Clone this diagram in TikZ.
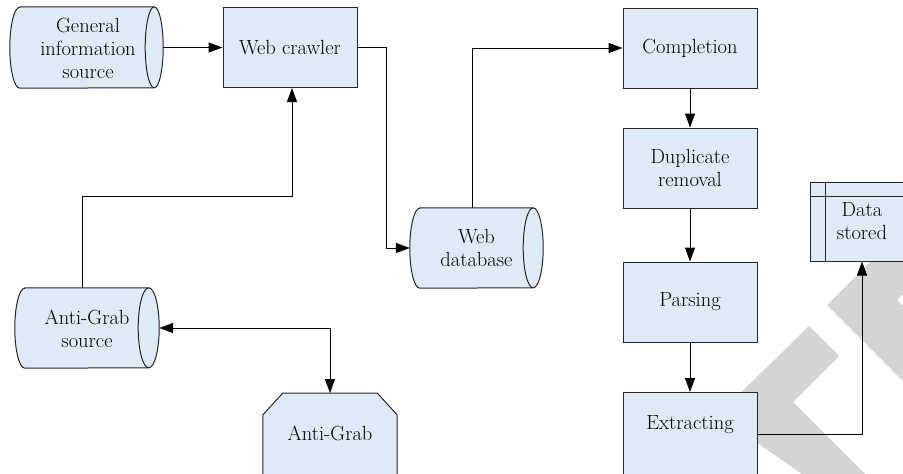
\documentclass[tikz,border=0pt]{standalone}
\usetikzlibrary{arrows.meta,calc}
\definecolor{boxfill}{RGB}{222,234,245}
\definecolor{edgecol}{RGB}{38,38,38}
\definecolor{wmark}{RGB}{212,212,212}
\begin{document}
\begin{tikzpicture}[x=1pt,y=-1pt,
  lbl/.style={inner sep=0pt, align=center, text=black, font=\fontsize{20.5}{23}\selectfont},
  shp/.style={draw=edgecol, fill=boxfill, line width=1pt},
  box/.style={shp, rectangle, inner sep=0pt, minimum width=134pt, minimum height=80pt, align=center, text=black, font=\fontsize{20.5}{23}\selectfont},
  conn/.style={draw=black, line width=1pt, -{Triangle[length=14pt,width=10pt]}},
  dconn/.style={draw=black, line width=1pt, {Triangle[length=14pt,width=10pt]}-{Triangle[length=14pt,width=10pt]}},
  wm/.style={fill=wmark, draw=none}]
\useasboundingbox (0,0) rectangle (903,474);
\clip (0,0) rectangle (903,474);
% watermark
\fill[wm] (809,326) -- (839,356) -- (793,402) -- (893,502) -- (868,520) -- (717.7,415.3) -- cycle;
\fill[wm] (947,185) -- (827,305) -- (947,425) -- (1017,420) -- (897,300) -- (1017,180) -- cycle;

% named areas
\node[inner sep=0pt, minimum width=153pt, minimum height=81pt] (gis) at (86.5,47.5) {};
\node[inner sep=0pt, minimum width=133pt, minimum height=80pt] (wdb) at (476.5,248) {};
\node[inner sep=0pt, minimum width=144pt, minimum height=80pt] (ags) at (87,328) {};
\node[inner sep=0pt, minimum width=134pt, minimum height=110pt, anchor=north] (ag) at (330,393) {};

% stored-data shapes
\draw[shp] ($(gis.north west)+(10,0)$) -- ($(gis.north east)+(-9,0)$)
  arc[start angle=90, end angle=-90, x radius=9pt, y radius=40.5pt]
  -- ($(gis.south west)+(10,0)$)
  arc[start angle=270, end angle=90, x radius=10pt, y radius=40.5pt] -- cycle;
\draw[shp, fill=none] ($(gis.north east)+(-9,0)$) arc[start angle=90, end angle=270, x radius=9pt, y radius=40.5pt];

\draw[shp] ($(wdb.north west)+(10,0)$) -- ($(wdb.north east)+(-10,0)$)
  arc[start angle=90, end angle=-90, x radius=10pt, y radius=40pt]
  -- ($(wdb.south west)+(10,0)$)
  arc[start angle=270, end angle=90, x radius=10pt, y radius=40pt] -- cycle;
\draw[shp, fill=none] ($(wdb.north east)+(-10,0)$) arc[start angle=90, end angle=270, x radius=10pt, y radius=40pt];

\draw[shp] ($(ags.north west)+(10,0)$) -- ($(ags.north east)+(-10.5,0)$)
  arc[start angle=90, end angle=-90, x radius=10.5pt, y radius=40pt]
  -- ($(ags.south west)+(10,0)$)
  arc[start angle=270, end angle=90, x radius=10pt, y radius=40pt] -- cycle;
\draw[shp, fill=none] ($(ags.north east)+(-10.5,0)$) arc[start angle=90, end angle=270, x radius=10.5pt, y radius=40pt];

% Anti-Grab shape
\draw[shp] ($(ag.north west)+(20,0)$) -- ($(ag.north east)+(-20,0)$) -- ($(ag.north east)+(0,22)$)
  -- (ag.south east) -- (ag.south west) -- ($(ag.north west)+(0,22)$) -- cycle;

% texts of shapes
\node[lbl] (gist) at (88,48) {General\\information\\source};
\node[lbl] (wdbt) at (476.5,248) {Web\\database};
\node[lbl] (agst) at (87,329) {Anti-Grab\\source};
\node[lbl] (agt) at (330,433) {Anti-Grab};

% boxes
\node[box] (wc) at (290,47.5) {Web crawler};
\node[box] (comp) at (690,48) {Completion};
\node[box] (dup) at (690,168) {Duplicate\\removal};
\node[box] (pars) at (690,302) {Parsing};
\node[box, minimum height=100pt, anchor=north] (ext) at (690,392) {};
\node[lbl] (extt) at (690,425) {Extracting};

% data stored
\node[shp, rectangle, inner sep=0pt, minimum width=104pt, minimum height=79pt] (ds) at (862,221.5) {};
\draw[draw=edgecol, line width=1pt] ($(ds.north west)+(16,0)$) -- ($(ds.south west)+(16,0)$);
\draw[draw=edgecol, line width=1pt] ($(ds.north west)+(0,15)$) -- ($(ds.north east)+(0,15)$);
\node[lbl] (dst) at (862,221.5) {Data\\stored};

% connectors
\draw[conn] (gis.east) -- (wc.west);
\draw[conn] (wc.east) -- ++(29,0) |- (wdb.west);
\draw[conn] ($(wdb.north)+(-4.5,0)$) |- (comp.west);
\draw[conn] (comp.south) -- (dup.north);
\draw[conn] (dup.south) -- (pars.north);
\draw[conn] (pars.south) -- (ext.north);
\draw[conn] ($(ext.north east)+(0,42)$) -| (ds.south);
\draw[conn] ($(ags.north)+(-5,0)$) -- ++(0,-91) -| ($(wc.south)+(2,0)$);
\draw[dconn] (ags.east) -| (ag.north);
\end{tikzpicture}
\end{document}
